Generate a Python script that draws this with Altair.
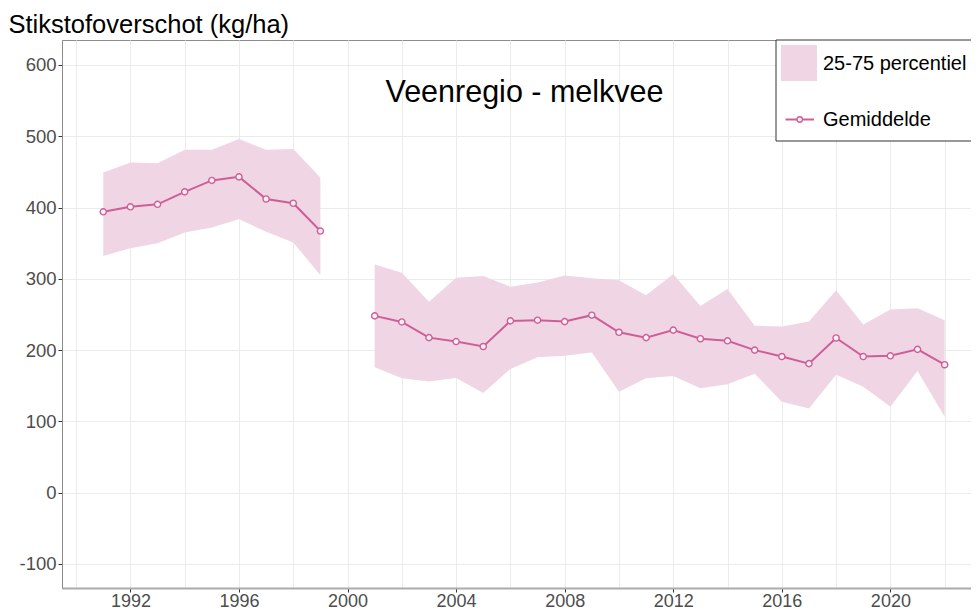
import altair as alt
import pandas as pd

# ---- data ----
years = [1991, 1992, 1993, 1994, 1995, 1996, 1997, 1998, 1999,
         2001, 2002, 2003, 2004, 2005, 2006, 2007, 2008, 2009, 2010, 2011,
         2012, 2013, 2014, 2015, 2016, 2017, 2018, 2019, 2020, 2021, 2022]
mean = [394, 401, 404.5, 422, 438, 443, 412, 406, 367,
        248, 239.5, 217.5, 212, 205, 241, 242, 240, 249, 225, 217.5,
        228, 216, 213, 200, 191, 181, 217, 191, 192, 201, 179.5]
p75 = [449, 463, 462, 481, 481, 496, 481, 482, 442,
       320, 308.6, 268, 301.6, 304, 289, 295, 304.5, 300.7, 298, 277,
       306.6, 262, 285.7, 234, 233, 240, 284, 236, 257, 258.6, 242]
p25 = [332, 343, 350, 365, 372, 383.5, 366, 351, 305,
       176, 160.5, 156, 161, 140, 173.5, 190, 192, 196.5, 141.7, 160.5,
       163.7, 146.4, 152, 167, 127.7, 118, 165.5, 148.7, 120.6, 170.7, 106.6]

title_text = "Veenregio - melkvee"
y_title = "Stikstofoverschot (kg/ha)"
legend_labels = ["25-75 percentiel", "Gemiddelde"]

x_grid = list(range(1990, 2024))
y_grid = list(range(-100, 601, 50))

df = pd.DataFrame({"year": years, "mean": mean, "p25": p25, "p75": p75})
df["seg"] = (df["year"] > 2000).astype(int)

FONT = "Liberation Sans"
LINE = "#CE5E96"
BAND = "#F0D6E4"
PT_FILL = "#FCEEF5"

xscale = alt.Scale(domain=[1989.48, 2022.97], nice=False, zero=False)
yscale = alt.Scale(domain=[-133.7, 635], nice=False, zero=False)

xaxis = alt.Axis(
    values=x_grid, format="d", title=None,
    labelExpr="datum.value % 4 == 0 ? datum.label : ''",
    labelOverlap=False, labelFontSize=18, labelColor="#4D4D4D", labelFont=FONT,
    labelPadding=0,
    tickOpacity={"condition": {"test": "datum.value % 4 == 0", "value": 1}, "value": 0},
    tickColor="#333333", tickSize=4,
    grid=True, gridColor="#EBEBEB", gridWidth=1,
    domainColor="#ABABAB", domainWidth=2,
)
yaxis = alt.Axis(
    values=y_grid,
    labelExpr="datum.value % 100 == 0 ? ('' + datum.value) : ''",
    labelOverlap=False, labelFontSize=18.5, labelColor="#4D4D4D", labelFont=FONT,
    labelPadding=2,
    tickOpacity={"condition": {"test": "datum.value % 100 == 0", "value": 1}, "value": 0},
    tickColor="#333333", tickSize=4,
    grid=True,
    gridColor={"condition": {"test": "datum.value % 100 == 0", "value": "#EBEBEB"}, "value": "#F3F3F3"},
    gridWidth=1,
    domainColor="#8C8C8C", domainWidth=1,
    title=y_title, titleAngle=0, titleAlign="left", titleBaseline="alphabetic",
    titleX=-54, titleY=-8, titleFontSize=25.5, titleFontWeight="normal",
    titleColor="#000000", titleFont=FONT,
)

base = alt.Chart(df)

band = base.mark_area(color=BAND, opacity=1).encode(
    x=alt.X("year:Q", scale=xscale, axis=xaxis),
    y=alt.Y("p25:Q", scale=yscale, axis=yaxis),
    y2="p75:Q",
    detail="seg:N",
)
line = base.mark_line(color=LINE, strokeWidth=2).encode(
    x=alt.X("year:Q", scale=xscale),
    y=alt.Y("mean:Q", scale=yscale),
    detail="seg:N",
)
points = base.mark_point(shape="circle", size=38, filled=False, fill=PT_FILL,
                         fillOpacity=1, stroke=LINE, strokeWidth=1.4).encode(
    x=alt.X("year:Q", scale=xscale),
    y=alt.Y("mean:Q", scale=yscale),
)

one = pd.DataFrame({"t": [title_text]})
title = alt.Chart(one).mark_text(font=FONT, fontSize=30.5, color="#000000",
                                 align="center", baseline="alphabetic").encode(
    x=alt.value(462.5), y=alt.value(62), text="t:N")

LX = 714  # legend box left edge (plot coords)
lg = pd.DataFrame({"a": [legend_labels[0]], "b": [legend_labels[1]]})
lg_box = alt.Chart(lg).mark_rect(fill="#FFFFFF", stroke="#333333", strokeWidth=1).encode(
    x=alt.value(LX), x2=alt.value(LX + 240), y=alt.value(0), y2=alt.value(101))
lg_sq = alt.Chart(lg).mark_rect(fill=BAND).encode(
    x=alt.value(LX + 5), x2=alt.value(LX + 41), y=alt.value(5), y2=alt.value(41))
lg_t1 = alt.Chart(lg).mark_text(font=FONT, fontSize=20, align="left", baseline="middle",
                                color="#000000").encode(
    x=alt.value(LX + 47), y=alt.value(24), text="a:N")
lg_rule = alt.Chart(lg).mark_rule(color=LINE, strokeWidth=2).encode(
    x=alt.value(LX + 9.5), x2=alt.value(LX + 38), y=alt.value(79.5))
lg_pt = alt.Chart(lg).mark_point(shape="circle", size=30, filled=False, fill=PT_FILL,
                                 fillOpacity=1, stroke=LINE, strokeWidth=1.3).encode(
    x=alt.value(LX + 23.7), y=alt.value(79.5))
lg_t2 = alt.Chart(lg).mark_text(font=FONT, fontSize=20, align="left", baseline="middle",
                                color="#000000").encode(
    x=alt.value(LX + 47), y=alt.value(80), text="b:N")

chart = alt.layer(
    band, line, points, title, lg_box, lg_sq, lg_t1, lg_rule, lg_pt, lg_t2
).properties(
    width=909, height=548,
    autosize=alt.AutoSizeParams(type="none"),
    padding={"left": 54, "top": 32, "right": 0, "bottom": 22},
    background="#FFFFFF",
).configure_view(
    stroke="#8C8C8C", strokeWidth=1,
)

chart.save("out.html", embed_options={"renderer": "svg", "actions": False})
